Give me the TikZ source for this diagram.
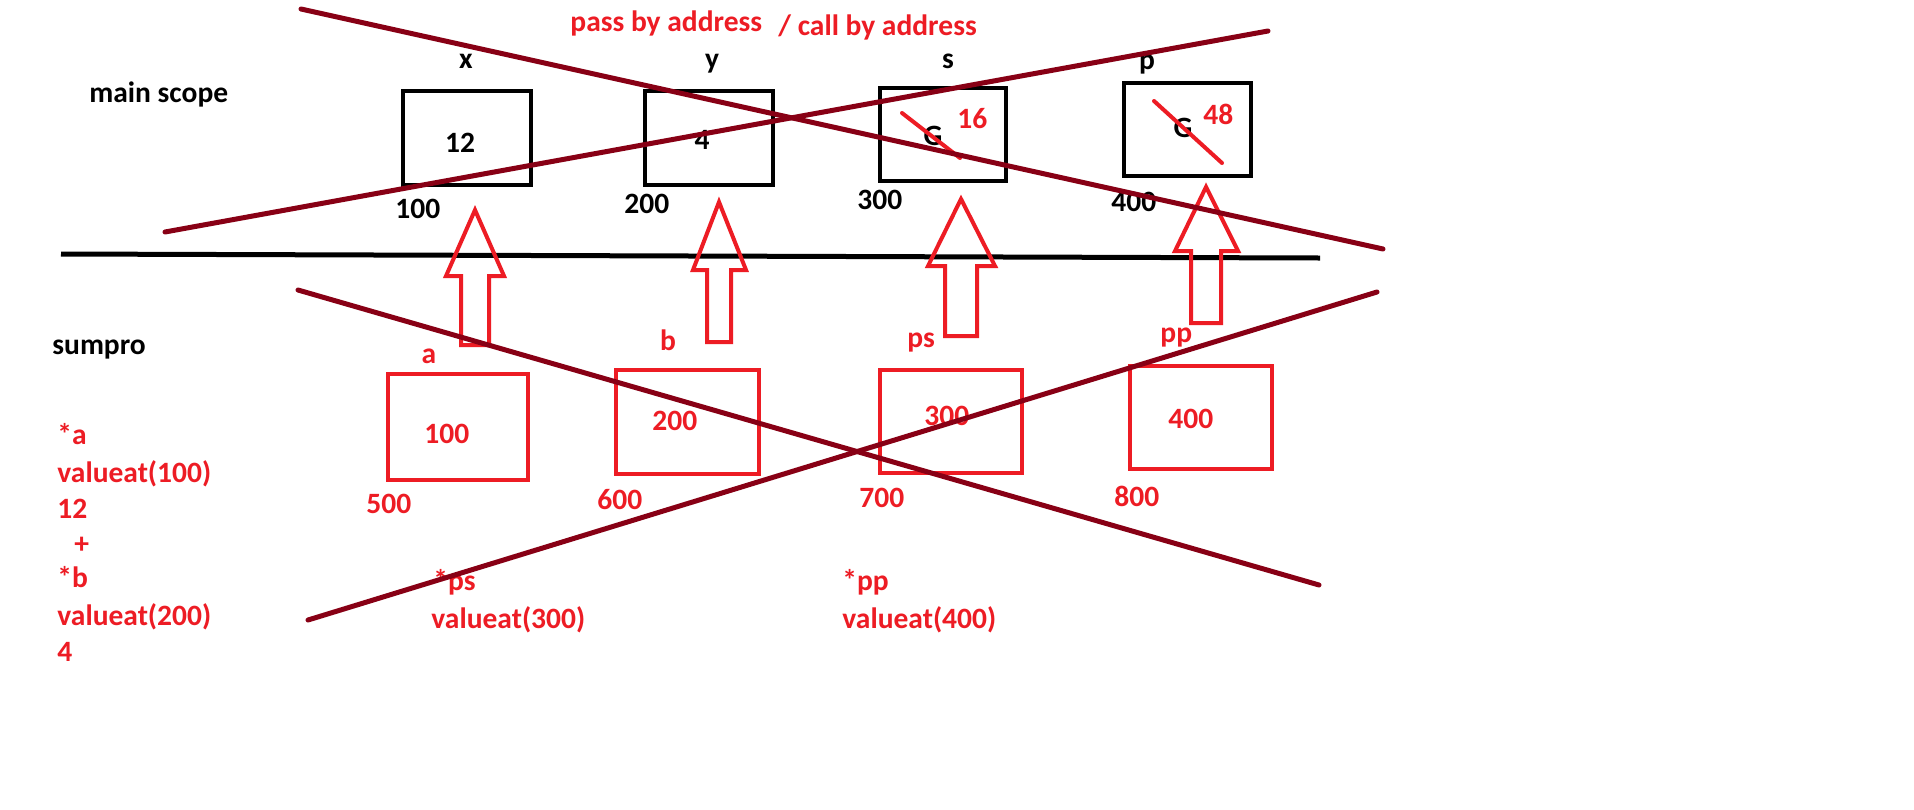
\documentclass[tikz,border=0pt]{standalone}
\usepackage{fontspec}
\setmainfont{Carlito}
\definecolor{brick}{RGB}{136,0,21}
\definecolor{pred}{RGB}{237,28,36}
\tikzset{
  lbl/.style={inner sep=0pt, font=\fontsize{14.75}{17}\selectfont\bfseries},
  blk/.style={lbl, text=black},
  rtxt/.style={lbl, text=pred},
  mbox/.style={draw=black, line width=2pt, inner sep=0pt},
  rbox/.style={draw=pred, line width=2pt, inner sep=0pt},
  blockarrow/.style={draw=pred, line width=2pt, line join=miter},
  cross/.style={draw=brick, line width=2.5pt, line cap=round},
  slash/.style={draw=pred, line width=2pt, line cap=round},
  divider/.style={draw=black, line width=2.5pt},
}
\begin{document}
\begin{tikzpicture}[x=0.5pt,y=-0.5pt]
\useasboundingbox[fill=white] (0,0) rectangle (1914,809);

% title
\node[rtxt, anchor=base west] (t1) at (570,31) {pass by address};
\node[rtxt, anchor=base west] (t2) at (778,35) {/ call by address};

% scope labels
\node[blk, anchor=base west] (ms) at (89,102) {main scope};
\node[blk, anchor=base west] (sp) at (52,354) {sumpro};

% main scope boxes
\node[mbox, minimum width=64pt, minimum height=47pt] (bx) at (466.5,137.5) {};
\node[mbox, minimum width=64pt, minimum height=47pt] (by) at (708.5,137.5) {};
\node[mbox, minimum width=63pt, minimum height=46.5pt] (bs) at (942.5,134) {};
\node[mbox, minimum width=63.5pt, minimum height=46.5pt] (bp) at (1187,129) {};

\node[blk, anchor=base] (lx) at (466,68) {x};
\node[blk, anchor=base] (ly) at (712,68) {y};
\node[blk, anchor=base] (ls) at (948,68) {s};
\node[blk, anchor=base] (lp) at (1147,69) {p};

\node[blk, anchor=base] (vx) at (460,152) {12};
\node[blk, anchor=base] (vy) at (702,149) {4};
\node[blk, anchor=base] (vs) at (933,145) {G};
\node[blk, anchor=base] (vp) at (1183,137) {G};
\node[rtxt, anchor=base west] (ns) at (957,128) {16};
\node[rtxt, anchor=base west] (np) at (1203,124) {48};

\node[blk, anchor=base west] (ax) at (395,218) {100};
\node[blk, anchor=base west] (ay) at (624,213) {200};
\node[blk, anchor=base west] (as) at (857,209) {300};
\node[blk, anchor=base west] (ap) at (1111,211) {400};

% crossing-out slashes over G
\draw[slash] (902,113) -- (960,158);
\draw[slash] (1154,101) -- (1222,163);

% divider
\coordinate (d1) at (61,254);
\coordinate (d2) at (1320,258);
\draw[divider] (d1) -- (d2);

% sumpro boxes
\node[rbox, minimum width=70pt, minimum height=53pt] (ba) at (458,427) {};
\node[rbox, minimum width=71.5pt, minimum height=52pt] (bb) at (687.5,422) {};
\node[rbox, minimum width=71pt, minimum height=51.5pt] (bps) at (951,421.5) {};
\node[rbox, minimum width=71pt, minimum height=51.5pt] (bpp) at (1201,417.5) {};

\node[rtxt, anchor=base] (la) at (429,363) {a};
\node[rtxt, anchor=base] (lb) at (668,350) {b};
\node[rtxt, anchor=base west] (lps) at (907,347) {ps};
\node[rtxt, anchor=base west] (lpp) at (1160,342) {pp};

\node[rtxt, anchor=base west] (va) at (424,443) {100};
\node[rtxt, anchor=base west] (vb) at (652,430) {200};
\node[rtxt, anchor=base west] (vps) at (924,425) {300};
\node[rtxt, anchor=base west] (vpp) at (1168,428) {400};

\node[rtxt, anchor=base west] (aa) at (366,513) {500};
\node[rtxt, anchor=base west] (ab) at (597,509) {600};
\node[rtxt, anchor=base west] (aps) at (859,507) {700};
\node[rtxt, anchor=base west] (app) at (1114,506) {800};

% block arrows
\draw[blockarrow] (475,210) -- (446,276) -- (461,276) -- (461,345) -- (489,345) -- (489,276) -- (504,276) -- cycle;
\draw[blockarrow] (719,202) -- (693,270) -- (707,270) -- (707,342) -- (731,342) -- (731,270) -- (746,270) -- cycle;
\draw[blockarrow] (961,199) -- (928,266) -- (945,266) -- (945,336) -- (977,336) -- (977,266) -- (995,266) -- cycle;
\draw[blockarrow] (1206,187) -- (1175,251) -- (1191,251) -- (1191,323) -- (1221,323) -- (1221,251) -- (1238,251) -- cycle;

% left column
\node[rtxt, anchor=base west] (c1) at (57,444) {*a};
\node[rtxt, anchor=base west] (c2) at (57,482) {valueat(100)};
\node[rtxt, anchor=base west] (c3) at (57,518) {12};
\node[rtxt, anchor=base west] (c4) at (74,553) {+};
\node[rtxt, anchor=base west] (c5) at (57,587) {*b};
\node[rtxt, anchor=base west] (c6) at (57,625) {valueat(200)};
\node[rtxt, anchor=base west] (c7) at (57,661) {4};

\node[rtxt, anchor=base west] (d1t) at (433,590) {*ps};
\node[rtxt, anchor=base west] (d2t) at (431,628) {valueat(300)};
\node[rtxt, anchor=base west] (e1t) at (842,590) {*pp};
\node[rtxt, anchor=base west] (e2t) at (842,628) {valueat(400)};

% crossing-out lines
\coordinate (k1a) at (301,9);   \coordinate (k1b) at (1383,249);
\coordinate (k2a) at (165,232); \coordinate (k2b) at (1268,31);
\coordinate (k3a) at (298,290); \coordinate (k3b) at (1319,585);
\coordinate (k4a) at (308,620); \coordinate (k4b) at (1377,292);
\draw[cross] (k1a) -- (k1b);
\draw[cross] (k2a) -- (k2b);
\draw[cross] (k3a) -- (k3b);
\draw[cross] (k4a) -- (k4b);
\end{tikzpicture}
\end{document}
